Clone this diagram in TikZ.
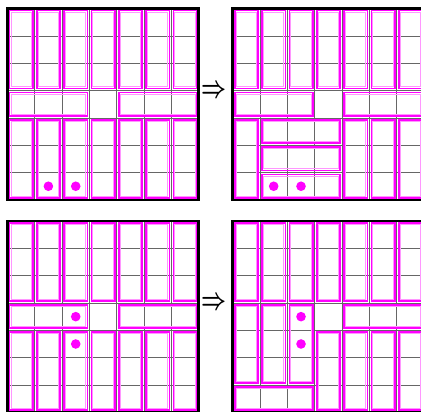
\documentclass[tikz,border=0pt]{standalone}
\usepackage{graphicx}
\definecolor{mag}{RGB}{255,0,255}
\definecolor{magpale}{RGB}{255,150,255}
\tikzset{
  tile/.style={draw=mag, line width=1.7pt},
  tilein/.style={draw=magpale, line width=1pt},
  gridln/.style={draw=black!60, line width=0.8pt},
  frame/.style={draw=black, line width=2.7pt},
  dotmark/.style={fill=mag, draw=none},
}
\def\cs{27.33}
\newcommand{\drawtiles}[1]{%
  \foreach \c/\r/\w/\h in {#1}{
    \draw[tile] ({\c*\cs+2},{\r*\cs+2}) rectangle ({(\c+\w)*\cs-2},{(\r+\h)*\cs-2});
    \draw[tilein] ({\c*\cs+3.6},{\r*\cs+3.6}) rectangle ({(\c+\w)*\cs-3.6},{(\r+\h)*\cs-3.6});
  }}
\newcommand{\drawgrid}{%
  \foreach \i in {1,...,6}{
    \draw[gridln] ({\i*\cs},0) -- ({\i*\cs},{7*\cs});
    \draw[gridln] (0,{\i*\cs}) -- ({7*\cs},{\i*\cs});
  }}
\newcommand{\drawframe}{\draw[frame] (0,0) rectangle ({7*\cs},{7*\cs});}
\newcommand{\drawdots}[1]{%
  \foreach \c/\r in {#1}{
    \fill[dotmark] ({(\c+0.5)*\cs},{(\r+0.5)*\cs}) circle (4.8);
  }}
\begin{document}
\begin{tikzpicture}[x=1pt,y=-1pt]
\useasboundingbox (0,0) rectangle (421,412);
\clip (0,0) rectangle (421,412);
% panel 1 (top left)
\begin{scope}[shift={(7.4,8.6)}]
  \drawgrid
  \drawtiles{0/0/1/3,1/0/1/3,2/0/1/3,3/0/1/3,4/0/1/3,5/0/1/3,6/0/1/3,
             0/3/3/1,4/3/3/1,
             0/4/1/3,1/4/1/3,2/4/1/3,3/4/1/3,4/4/1/3,5/4/1/3,6/4/1/3}
  \drawdots{1/6,2/6}
  \drawframe
\end{scope}
% panel 2 (top right)
\begin{scope}[shift={(232.7,8.6)}]
  \drawgrid
  \drawtiles{0/0/1/3,1/0/1/3,2/0/1/3,3/0/1/3,4/0/1/3,5/0/1/3,6/0/1/3,
             0/3/3/1,4/3/3/1,
             0/4/1/3,1/4/3/1,1/5/3/1,1/6/3/1,4/4/1/3,5/4/1/3,6/4/1/3}
  \drawdots{1/6,2/6}
  \drawframe
\end{scope}
% panel 3 (bottom left)
\begin{scope}[shift={(7.4,221)}]
  \drawgrid
  \drawtiles{0/0/1/3,1/0/1/3,2/0/1/3,3/0/1/3,4/0/1/3,5/0/1/3,6/0/1/3,
             0/3/3/1,4/3/3/1,
             0/4/1/3,1/4/1/3,2/4/1/3,3/4/1/3,4/4/1/3,5/4/1/3,6/4/1/3}
  \drawdots{2/3,2/4}
  \drawframe
\end{scope}
% panel 4 (bottom right)
\begin{scope}[shift={(232.7,221)}]
  \drawgrid
  \drawtiles{0/0/1/3,1/0/1/3,2/0/1/3,3/0/1/3,4/0/1/3,5/0/1/3,6/0/1/3,
             0/3/1/3,1/3/1/3,2/3/1/3,0/6/3/1,4/3/3/1,
             3/4/1/3,4/4/1/3,5/4/1/3,6/4/1/3}
  \drawdots{2/3,2/4}
  \drawframe
\end{scope}
\node[inner sep=0] (arrowtop) at (214.5,91) {\resizebox{25pt}{12pt}{\boldmath$\Rightarrow$}};
\node[inner sep=0] (arrowbot) at (214.5,303) {\resizebox{25pt}{12pt}{\boldmath$\Rightarrow$}};
\end{tikzpicture}
\end{document}
